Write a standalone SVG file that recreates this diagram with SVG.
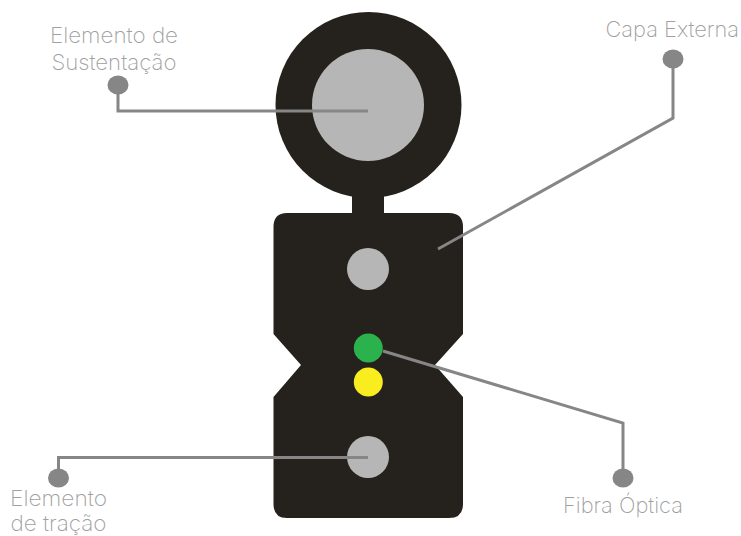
<svg xmlns="http://www.w3.org/2000/svg" width="741" height="536" viewBox="0 0 741 536">
<style>
.c{fill:none;stroke:#868686;stroke-width:3}
.d{fill:#868686}
.k{fill:#25221d}
.g{fill:#b6b6b6}
text{font-family:"Inter","Liberation Sans",sans-serif;font-weight:200;font-size:22px;fill:#a0a0a0}
</style>
<rect width="741" height="536" fill="#fff"/>
<g id="cable">
<circle class="k" cx="368.500" cy="105" r="93"/>
<rect class="k" x="352" y="190" width="32" height="30"/>
<path class="k" d="M287 213H449Q463 213 463 227V334L435 365L463 397V504Q463 518 449 518H287Q273.500 518 273.500 504V397L301 365L273.500 334V227Q273.500 213 287 213Z"/>
</g>
<g id="sustentacao"><circle class="g" cx="368" cy="105" r="56"/></g>
<g id="core-top"><circle class="g" cx="368" cy="269" r="21"/></g>
<g id="fibra-verde"><circle cx="368.300" cy="348" r="14.500" fill="#2bb24c"/></g>
<g id="fibra-amarela"><circle cx="368.300" cy="382" r="14.500" fill="#f9ed1f"/></g>
<g id="tracao"><circle class="g" cx="368" cy="457" r="21"/></g>
<g id="connectors">
<path class="c" d="M118 88V111H368"/>
<path class="c" d="M673 62V118L438 249"/>
<path class="c" d="M383 351L623 423V474"/>
<path class="c" d="M58.500 475V457.500H368"/>
</g>
<g id="dots">
<ellipse class="d" cx="118" cy="85" rx="10.500" ry="9.500"/>
<ellipse class="d" cx="673" cy="59" rx="10.500" ry="9.500"/>
<ellipse class="d" cx="623" cy="478" rx="10.500" ry="9.500"/>
<ellipse class="d" cx="58.500" cy="478" rx="10.500" ry="9.500"/>
</g>
<g id="labels">
<text x="50" y="43" textLength="128" lengthAdjust="spacingAndGlyphs">Elemento de</text>
<text x="51.500" y="70" textLength="125" lengthAdjust="spacingAndGlyphs">Sustentação</text>
<text x="605.500" y="37" textLength="133.500" lengthAdjust="spacingAndGlyphs">Capa Externa</text>
<text x="563" y="513" textLength="120" lengthAdjust="spacingAndGlyphs">Fibra Óptica</text>
<text x="10" y="506" textLength="97" lengthAdjust="spacingAndGlyphs">Elemento</text>
<text x="10.500" y="531" textLength="96" lengthAdjust="spacingAndGlyphs">de tração</text>
</g>
</svg>
